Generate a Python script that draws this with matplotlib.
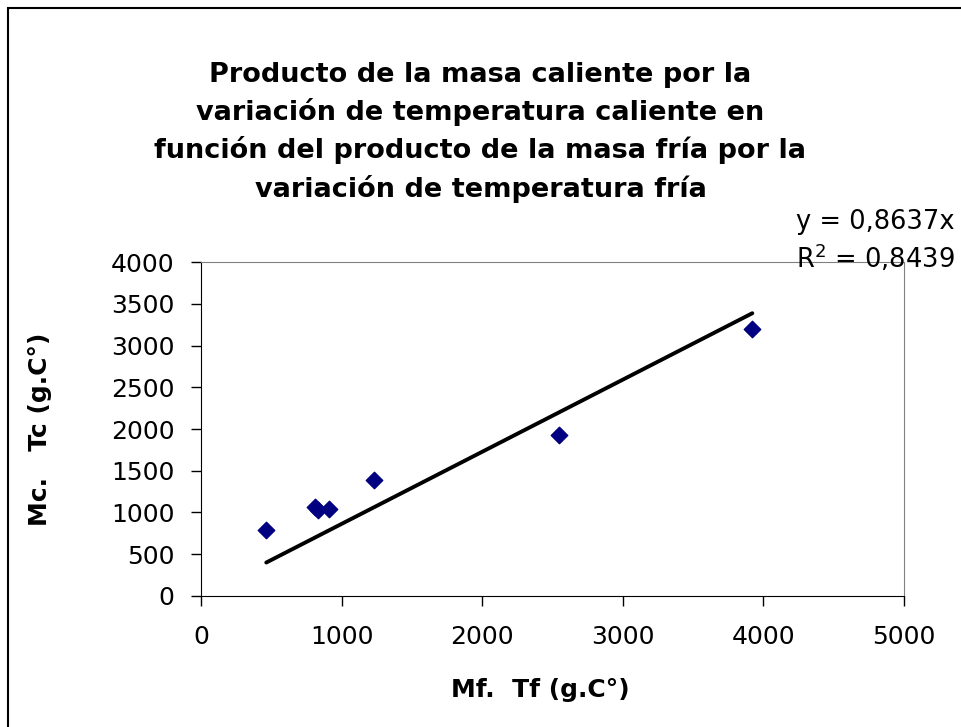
import matplotlib.pyplot as plt
from matplotlib.patches import Rectangle

# datos
mf_tf = [464, 810, 829, 911, 1233, 2543, 3921]
mc_tc = [792, 1069, 1025, 1045, 1391, 1926, 3200]
pendiente = 0.8637
r2 = 0.8439

plt.rcParams['font.family'] = ['DejaVu Sans']

fig = plt.figure(figsize=(9.61, 7.27), dpi=100)
ax = fig.add_axes([0.2092, 0.1802, 0.7315, 0.4594])

# borde exterior del gráfico
fig.patches.append(Rectangle((8 / 961, -0.01), 1.0, 1 - 8 / 727 + 0.01,
                             transform=fig.transFigure, fill=False,
                             edgecolor='black', linewidth=1.5))

ax.scatter(mf_tf, mc_tc, marker='D', s=70, color='#000080', zorder=3)

x0, x1 = min(mf_tf), max(mf_tf)
ax.plot([x0, x1], [pendiente * x0, pendiente * x1], color='black',
        linewidth=2.8, solid_capstyle='round', zorder=2)

ax.set_xlim(0, 5000)
ax.set_ylim(0, 4000)
ax.set_xticks(range(0, 5001, 1000))
ax.set_yticks(range(0, 4001, 500))
ax.tick_params(direction='out', length=7, width=1, labelsize=18, pad=14)
ax.tick_params(axis='y', pad=12)

for s in ['top', 'right']:
    ax.spines[s].set_color('#808080')
for s in ['left', 'bottom']:
    ax.spines[s].set_color('black')

ax.set_xlabel('Mf.  Tf (g.C°)', fontsize=18, fontweight='bold')
ax.xaxis.set_label_coords(0.482, -0.281)
ax.xaxis.label.set_va('center')
ax.set_ylabel('Mc.   Tc (g.C°)', fontsize=18, fontweight='bold')
ax.yaxis.set_label_coords(-0.229, 0.5)
ax.yaxis.label.set_va('center')

titulo = ('Producto de la masa caliente por la\n'
          'variación de temperatura caliente en\n'
          'función del producto de la masa fría por la\n'
          'variación de temperatura fría')
fig.text(0.5, 0.818, titulo, ha='center', va='center', fontsize=19.5,
         fontweight='bold', linespacing=1.47)

fig.text(0.993, 0.695, 'y = 0,8637x', ha='right', va='center', fontsize=18.5)
fig.text(0.993, 0.645, 'R$^2$ = 0,8439', ha='right', va='center', fontsize=18.5)

plt.savefig('out.png', dpi=100)
